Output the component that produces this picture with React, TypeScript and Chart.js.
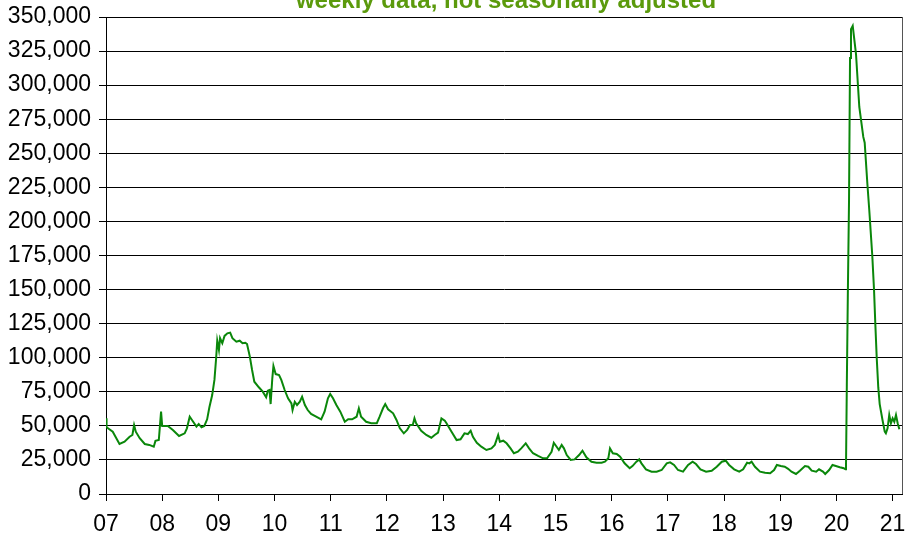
import { useEffect, useRef } from 'react';
import { Chart, registerables } from 'chart.js';

Chart.register(...registerables);

const titleText = 'weekly data, not seasonally adjusted';

// week position as decimal year
const weeks = [
  2007.00, 2007.01, 2007.12, 2007.24, 2007.33, 2007.42, 2007.47, 2007.50, 2007.53, 2007.60,
  2007.69, 2007.77, 2007.85, 2007.88, 2007.94, 2007.98, 2008.00, 2008.10, 2008.19, 2008.30,
  2008.40, 2008.44, 2008.49, 2008.53, 2008.61, 2008.65, 2008.70, 2008.75, 2008.80, 2008.84,
  2008.89, 2008.93, 2008.96, 2008.98, 2009.01, 2009.03, 2009.07, 2009.11, 2009.16, 2009.21,
  2009.25, 2009.32, 2009.38, 2009.43, 2009.48, 2009.51, 2009.56, 2009.60, 2009.64, 2009.72,
  2009.79, 2009.85, 2009.88, 2009.91, 2009.93, 2009.96, 2009.98, 2010.02, 2010.08, 2010.12,
  2010.18, 2010.24, 2010.30, 2010.32, 2010.36, 2010.40, 2010.45, 2010.49, 2010.54, 2010.59,
  2010.65, 2010.74, 2010.83, 2010.89, 2010.95, 2010.99, 2011.04, 2011.10, 2011.17, 2011.25,
  2011.31, 2011.38, 2011.46, 2011.50, 2011.54, 2011.63, 2011.72, 2011.82, 2011.87, 2011.93,
  2011.97, 2012.02, 2012.11, 2012.17, 2012.23, 2012.30, 2012.36, 2012.41, 2012.46, 2012.49,
  2012.52, 2012.61, 2012.70, 2012.79, 2012.85, 2012.91, 2012.97, 2013.03, 2013.06, 2013.15,
  2013.24, 2013.31, 2013.38, 2013.44, 2013.49, 2013.53, 2013.60, 2013.68, 2013.77, 2013.86,
  2013.92, 2013.98, 2014.01, 2014.07, 2014.13, 2014.20, 2014.26, 2014.33, 2014.39, 2014.47,
  2014.53, 2014.60, 2014.69, 2014.78, 2014.85, 2014.93, 2014.97, 2015.02, 2015.06, 2015.11,
  2015.15, 2015.20, 2015.27, 2015.34, 2015.42, 2015.48, 2015.55, 2015.64, 2015.73, 2015.82,
  2015.88, 2015.94, 2015.97, 2016.02, 2016.09, 2016.15, 2016.23, 2016.32, 2016.37, 2016.44,
  2016.49, 2016.53, 2016.61, 2016.71, 2016.80, 2016.89, 2016.98, 2017.04, 2017.11, 2017.18,
  2017.27, 2017.36, 2017.44, 2017.50, 2017.58, 2017.68, 2017.78, 2017.87, 2017.96, 2018.03,
  2018.09, 2018.18, 2018.27, 2018.34, 2018.41, 2018.45, 2018.49, 2018.55, 2018.64, 2018.73,
  2018.82, 2018.89, 2018.94, 2019.01, 2019.08, 2019.14, 2019.20, 2019.28, 2019.35, 2019.44,
  2019.50, 2019.56, 2019.64, 2019.69, 2019.76, 2019.80, 2019.87, 2019.93, 2019.99, 2020.06,
  2020.13, 2020.16, 2020.170, 2020.185, 2020.204, 2020.224, 2020.242, 2020.259, 2020.290, 2020.348,
  2020.407, 2020.478, 2020.503, 2020.550, 2020.585, 2020.638, 2020.669, 2020.692, 2020.717, 2020.745,
  2020.770, 2020.820, 2020.860, 2020.880, 2020.910, 2020.940, 2020.970, 2021.000, 2021.030, 2021.060,
  2021.090, 2021.120,
];

// weekly claims
const claims = [
  55500, 49000, 45700, 36700, 38400, 42000, 43300, 50600, 45700, 40900,
  36700, 36000, 34700, 39000, 39600, 60400, 49900, 49900, 47000, 42600,
  44500, 48200, 56700, 54300, 49400, 51400, 48900, 49900, 54800, 63600,
  72600, 83700, 99600, 112500, 105700, 114300, 110600, 116000, 117900, 118400,
  114300, 111800, 112500, 110600, 111000, 110000, 100800, 91000, 82400, 78300,
  75100, 71000, 75800, 76300, 66000, 84900, 93900, 88000, 87300, 83700,
  76300, 70200, 66500, 61600, 67700, 65300, 67700, 71400, 65300, 61600,
  58700, 56700, 54800, 60400, 70200, 73400, 70200, 65300, 60400, 53000,
  54800, 54800, 56700, 62900, 56700, 53000, 51900, 51900, 56700, 62900,
  66000, 62200, 59200, 54300, 48200, 44500, 47000, 50600, 50600, 55500,
  51900, 46400, 43300, 41300, 43300, 45000, 55500, 53800, 51900, 45700,
  39600, 40100, 44500, 44000, 46400, 42000, 37600, 34700, 32300, 33500,
  36000, 43300, 38400, 39100, 37200, 33500, 29900, 31000, 33500, 37200,
  33500, 29900, 27900, 26200, 26200, 31000, 37600, 34700, 32300, 36000,
  33500, 28600, 25000, 25400, 28600, 31800, 26900, 23700, 23000, 23000,
  23700, 26200, 33500, 29900, 29400, 27400, 22500, 18900, 20500, 23700,
  25400, 22500, 18100, 16400, 16400, 17600, 22500, 23200, 21300, 17600,
  16400, 21300, 23700, 22000, 18100, 16400, 17100, 20000, 23700, 24400,
  21300, 18100, 16400, 18100, 23000, 22500, 23700, 20000, 16400, 15600,
  15200, 17600, 21300, 20500, 20000, 18500, 16400, 14700, 17100, 20500,
  20000, 17100, 16400, 18100, 16400, 14700, 17600, 21300, 20500, 19600,
  18900, 18100, 19000, 80000, 150000, 215000, 320000, 341000, 343500, 323000,
  284000, 262000, 257800, 228000, 208000, 175000, 150000, 125000, 100000, 78000,
  66000, 54300, 45700, 44500, 48200, 58000, 51900, 55500, 53000, 58000,
  51900, 47500,
];

const xTickYears = [2007, 2008, 2009, 2010, 2011, 2012, 2013, 2014, 2015, 2016, 2017, 2018, 2019, 2020, 2021];
const xTickLabels = ['07', '08', '09', '10', '11', '12', '13', '14', '15', '16', '17', '18', '19', '20', '21'];
const yTickValues = [0, 25000, 50000, 75000, 100000, 125000, 150000, 175000, 200000, 225000, 250000, 275000, 300000, 325000, 350000];
const yTickLabels = ['0', '25,000', '50,000', '75,000', '100,000', '125,000', '150,000', '175,000', '200,000', '225,000', '250,000', '275,000', '300,000', '325,000', '350,000'];

const FONT = '"Liberation Sans", Arial, sans-serif';

const zeroPad = (s: any) => {
  s.paddingTop = 0;
  s.paddingBottom = 0;
  s.paddingLeft = 0;
  s.paddingRight = 0;
};

export default function App() {
  const ref = useRef<HTMLCanvasElement>(null);

  useEffect(() => {
    document.body.style.margin = '0';
    const framePlugin = {
      id: 'frameAndTitle',
      afterDraw(chart: any) {
        const { ctx, chartArea } = chart;
        ctx.save();
        ctx.strokeStyle = '#555555';
        ctx.lineWidth = 1;
        ctx.beginPath();
        ctx.moveTo(Math.round(chartArea.right) + 0.5, chartArea.top);
        ctx.lineTo(Math.round(chartArea.right) + 0.5, chartArea.bottom);
        ctx.stroke();
        ctx.fillStyle = '#5b9a0c';
        ctx.font = 'bold 24px ' + FONT;
        ctx.textAlign = 'center';
        ctx.textBaseline = 'alphabetic';
        ctx.fillText(titleText, 506, 8);
        ctx.restore();
      },
    };

    const chart = new Chart(ref.current!, {
      type: 'line',
      data: {
        datasets: [
          {
            data: weeks.map((w, i) => ({ x: w, y: claims[i] })),
            borderColor: '#0a870a',
            borderWidth: 2,
            pointRadius: 0,
            tension: 0,
            fill: false,
          },
        ],
      },
      options: {
        animation: false,
        responsive: false,
        maintainAspectRatio: false,
        layout: { padding: { top: 17, right: 8, left: 0, bottom: 0 } },
        plugins: {
          legend: { display: false },
          tooltip: { enabled: false },
          title: { display: false },
        },
        scales: {
          x: {
            type: 'linear',
            min: 2007,
            max: 2021.167,
            afterBuildTicks: (s: any) => {
              s.ticks = xTickYears.map((v) => ({ value: v }));
            },
            afterFit: (s: any) => {
              s.height = 44;
              zeroPad(s);
            },
            ticks: {
              callback: (_v: any, i: number) => xTickLabels[i],
              font: { family: FONT, size: 23 },
              color: '#000',
              padding: 10,
              maxRotation: 0,
              autoSkip: false,
            },
            grid: { drawOnChartArea: false, drawTicks: true, tickLength: 7, color: '#000' },
            border: { color: '#000', width: 1 },
          },
          y: {
            min: 0,
            max: 350000,
            afterBuildTicks: (s: any) => {
              s.ticks = yTickValues.map((v) => ({ value: v }));
            },
            afterFit: (s: any) => {
              s.width = 106;
              zeroPad(s);
            },
            ticks: {
              callback: (_v: any, i: number) => yTickLabels[i],
              font: { family: FONT, size: 23 },
              color: '#000',
              padding: 8,
              autoSkip: false,
            },
            grid: { color: '#000', tickLength: 7, lineWidth: 1 },
            border: { color: '#000', width: 1 },
          },
        },
      },
      plugins: [framePlugin],
    } as any);
    return () => chart.destroy();
  }, []);

  return <canvas ref={ref} width={910} height={538} style={{ display: 'block' }} />;
}
